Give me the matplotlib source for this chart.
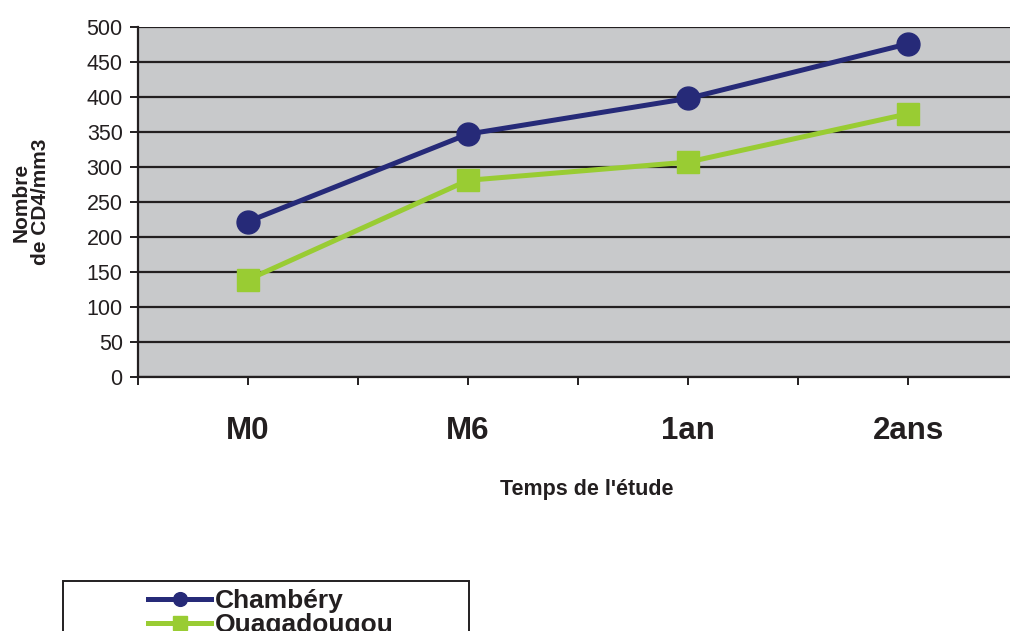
import matplotlib.pyplot as plt
from matplotlib.patches import Rectangle
from matplotlib.ticker import MultipleLocator

plt.rcParams['font.family'] = ['Liberation Sans', 'DejaVu Sans']

periodes = ['M0', 'M6', '1an', '2ans']
chambery = [222, 347, 398, 476]
ouagadougou = [139, 281, 307, 376]

bleu = '#262A78'
vert = '#99CC33'
W, H = 1010, 631

fig = plt.figure(figsize=(W / 100, H / 100), dpi=100)
# the plot area runs past the right edge of the picture, as in the original
ax = fig.add_axes([138 / W, (H - 377) / H, (1018 - 138) / W, 350 / H])
ax.set_facecolor('#C8C9CB')

x = list(range(len(periodes)))
ax.plot(x, chambery, color=bleu, lw=3.6, marker='o', ms=16.5, label='Chambéry', zorder=4)
ax.plot(x, ouagadougou, color=vert, lw=3.6, marker='s', ms=16.5, label='Ouagadougou', zorder=3)

ax.set_xlim(-0.5, len(periodes) - 0.5)
ax.set_ylim(0, 500)
ax.yaxis.set_major_locator(MultipleLocator(50))
ax.grid(axis='y', color='#231F20', lw=1.6)
ax.set_axisbelow(True)

ax.set_xticks(x)
ax.set_xticklabels(periodes, fontsize=22.5, fontweight='bold', color='#231F20')
ax.set_xticks([i - 0.5 for i in range(len(periodes) + 1)], minor=True)
ax.tick_params(axis='x', which='both', length=6, width=1.4, direction='out', color='#231F20')
ax.tick_params(axis='x', which='major', pad=22)
ax.tick_params(axis='y', length=6, width=1.4, labelsize=15.5, pad=5, colors='#231F20')

for s in ['top', 'right']:
    ax.spines[s].set_visible(False)
for s in ['left', 'bottom']:
    ax.spines[s].set_color('#231F20')
    ax.spines[s].set_linewidth(1.6)

fig.text(31 / W, 1 - 202 / H, 'Nombre\nde CD4/mm3', rotation=90, ha='center', va='center',
         multialignment='center', fontsize=15, fontweight='bold', color='#231F20', linespacing=1.0)
fig.text(587 / W, 1 - 490 / H, "Temps de l'étude", ha='center', va='center',
         fontsize=15.5, fontweight='bold', color='#231F20')

# legend box, cut off at the bottom of the picture
fig.patches.append(Rectangle((63 / W, -0.05), (469 - 63) / W, (H - 581) / H + 0.05,
                             transform=fig.transFigure, fill=False, ec='#231F20', lw=1.4))
leg = ax.legend(loc='upper left', bbox_to_anchor=(148 / W, 1 - 589 / H), bbox_transform=fig.transFigure,
                frameon=False, borderpad=0, borderaxespad=0, labelspacing=0.0, handlelength=2.4,
                handletextpad=0.15, markerscale=0.6, prop={'size': 19, 'weight': 'bold'})
for t in leg.get_texts():
    t.set_color('#231F20')

fig.savefig('out.png', dpi=100)
